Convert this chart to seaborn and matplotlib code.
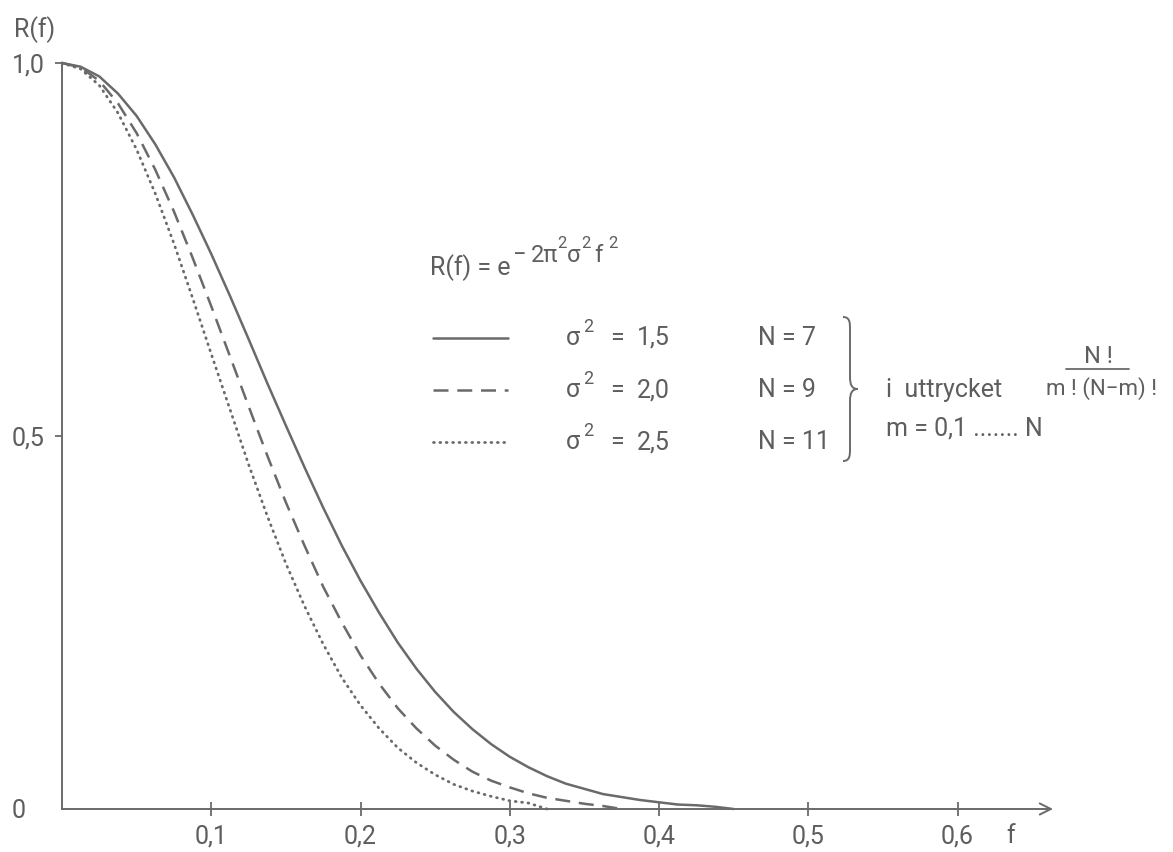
import numpy as np
import pandas as pd
import matplotlib
matplotlib.use("Agg")
import matplotlib.pyplot as plt
import seaborn as sns
from matplotlib.path import Path
from matplotlib.patches import PathPatch
from matplotlib.lines import Line2D

# ---- data ----
f_all = [0.0, 0.0125, 0.025, 0.0375, 0.05, 0.0625, 0.075, 0.0875, 0.1, 0.1125,
         0.125, 0.1375, 0.15, 0.1625, 0.175, 0.1875, 0.2, 0.2125, 0.225, 0.2375,
         0.25, 0.2625, 0.275, 0.2875, 0.3, 0.3125, 0.325, 0.3375, 0.35, 0.3625,
         0.375, 0.3875, 0.4, 0.4125, 0.425, 0.4375, 0.45]
R_15 = [1.0, 0.995, 0.982, 0.959, 0.929, 0.891, 0.847, 0.797, 0.744, 0.688,
        0.630, 0.571, 0.514, 0.458, 0.404, 0.353, 0.306, 0.263, 0.223, 0.188,
        0.157, 0.130, 0.107, 0.087, 0.070, 0.056, 0.044, 0.034, 0.027, 0.020,
        0.016, 0.012, 0.009, 0.006, 0.005, 0.003, 0.0]
R_20 = [1.0, 0.994, 0.976, 0.946, 0.906, 0.857, 0.801, 0.739, 0.674, 0.607,
        0.540, 0.474, 0.411, 0.353, 0.298, 0.250, 0.206, 0.168, 0.135, 0.108,
        0.085, 0.066, 0.050, 0.038, 0.029, 0.021, 0.015, 0.011, 0.007, 0.004,
        0.0]
R_25 = [1.0, 0.992, 0.970, 0.933, 0.884, 0.825, 0.758, 0.685, 0.610, 0.536,
        0.462, 0.393, 0.329, 0.272, 0.221, 0.176, 0.139, 0.108, 0.082, 0.062,
        0.046, 0.033, 0.024, 0.017, 0.011, 0.008, 0.0]

x_ticks = [0.1, 0.2, 0.3, 0.4, 0.5, 0.6]
x_tick_labels = ["0,1", "0,2", "0,3", "0,4", "0,5", "0,6"]
y_ticks = [0, 0.5, 1.0]
y_tick_labels = ["0", "0,5", "1,0"]
legend_sigma = ["1,5", "2,0", "2,5"]
legend_N = ["7", "9", "11"]

# ---- style ----
sns.set_style("white")
plt.rcParams["font.family"] = ["Roboto", "DejaVu Sans"]
TXT = "#5e5e5e"
LN = "#6a6a6a"
FS = 18

W, H = 1173, 852
fig = plt.figure(figsize=(W / 100, H / 100), dpi=100)
x0, y0, ytop = 62, 809, 63
xmax = 0.66
ppu = 1492.5
ax = fig.add_axes([x0 / W, (H - y0) / H, xmax * ppu / W, (y0 - ytop) / H])

def px(x, y):
    return x / W, 1 - y / H

lw = 1.8
SOLID = dict(linestyle="-", lw=lw)
DASH = dict(linestyle=(0, (6, 3.5)), lw=lw)
DOT = dict(linestyle=(0, (0.3, 2.0)), lw=2.0, dash_capstyle="round")

sns.lineplot(x=f_all[:len(R_15)], y=R_15, ax=ax, color=LN, clip_on=False, **SOLID)
sns.lineplot(x=f_all[:len(R_20)], y=R_20, ax=ax, color=LN, dashes=False, clip_on=False, **DASH)
sns.lineplot(x=f_all[:len(R_25)], y=R_25, ax=ax, color=LN, dashes=False, clip_on=False, **DOT)

ax.set_xlim(0, xmax)
ax.set_ylim(0, 1.0)
for s in ["top", "right", "bottom"]:
    ax.spines[s].set_visible(False)
ax.spines["left"].set_color(LN)
ax.spines["left"].set_linewidth(1.4)

# x axis with arrow
ax.annotate("", xy=(xmax + 0.004, 0), xytext=(0, 0),
            xycoords="data", textcoords="data",
            arrowprops=dict(arrowstyle="->", color=LN, lw=1.4, mutation_scale=20,
                            shrinkA=0, shrinkB=0), annotation_clip=False)

ax.set_xticks(x_ticks)
ax.set_xticklabels(x_tick_labels)
ax.set_yticks(y_ticks)
ax.set_yticklabels(y_tick_labels)
ax.tick_params(axis="x", bottom=True, direction="inout", length=10, width=1.3, color=LN,
               labelsize=FS, labelcolor=TXT, pad=6)
ax.tick_params(axis="y", left=True, direction="out", length=5, width=1.3, color=LN,
               labelsize=FS, labelcolor=TXT, pad=31)
for lab in ax.get_yticklabels():
    lab.set_horizontalalignment("left")
ax.yaxis.get_major_ticks()[0].tick1line.set_visible(False)
ax.set_xlabel("")
ax.set_ylabel("")
ax.grid(False)

# axis titles
fig.text(*px(14, 30), "R(f)", fontsize=FS, color=TXT, ha="left", va="center")
fig.text(*px(1006, 836), "f", fontsize=FS, color=TXT, ha="left", va="center")

# formula  R(f) = e^(-2 pi^2 sigma^2 f^2)
fig.text(*px(430, 268), "R(f) = e", fontsize=FS, color=TXT, ha="left", va="center")
exp_parts = [(513, 255, "−", 17), (531, 255, "2π", 17), (557, 243, "2", 12),
             (567, 255, "σ", 17), (581, 243, "2", 12), (594, 255, "f", 17), (608, 243, "2", 12)]
for ex, ey, et, es in exp_parts:
    fig.text(*px(ex, ey), et, fontsize=es, color=TXT, ha="left", va="center")

# legend rows
rows_y = [338, 390, 442]
for yy, st, sg, nn in zip(rows_y, [SOLID, DASH, DOT], legend_sigma, legend_N):
    xa, ya = px(433, yy)
    xb, _ = px(508, yy)
    fig.add_artist(Line2D([xa, xb], [ya, ya], color=LN, transform=fig.transFigure, **st))
    fig.text(*px(566, yy), "σ", fontsize=FS, color=TXT, ha="left", va="center")
    fig.text(*px(583, yy - 11), "2", fontsize=13, color=TXT, ha="left", va="center")
    fig.text(*px(610, yy), "=", fontsize=FS, color=TXT, ha="left", va="center")
    fig.text(*px(637, yy), sg, fontsize=FS, color=TXT, ha="left", va="center")
    fig.text(*px(758, yy), "N = " + nn, fontsize=FS, color=TXT, ha="left", va="center")

# brace
top, mid, bot = 317, 389, 461
verts = [(843, top), (850, top), (850, top + 6), (850, top + 12),
         (850, mid - 12),
         (850, mid - 4), (852, mid), (858, mid),
         (852, mid), (850, mid + 4), (850, mid + 12),
         (850, bot - 12),
         (850, bot - 6), (850, bot), (843, bot)]
codes = [Path.MOVETO, Path.CURVE4, Path.CURVE4, Path.CURVE4,
         Path.LINETO,
         Path.CURVE4, Path.CURVE4, Path.CURVE4,
         Path.CURVE4, Path.CURVE4, Path.CURVE4,
         Path.LINETO,
         Path.CURVE4, Path.CURVE4, Path.CURVE4]
verts_fig = [px(vx, vy) for vx, vy in verts]
fig.add_artist(PathPatch(Path(verts_fig, codes), fill=False, edgecolor=LN, lw=1.4,
                         transform=fig.transFigure))

# side note
fig.text(*px(886, 390), "i  uttrycket", fontsize=FS, color=TXT, ha="left", va="center")
fig.text(*px(1098, 356), "N !", fontsize=17, color=TXT, ha="center", va="center")
xa, ya = px(1066, 369)
xb, _ = px(1129, 369)
fig.add_artist(Line2D([xa, xb], [ya, ya], color=LN, lw=1.3, transform=fig.transFigure))
fig.text(*px(1046, 389), "m ! (N−m) !", fontsize=16, color=TXT, ha="left", va="center")
fig.text(*px(886, 428), "m = 0,1 ....... N", fontsize=FS, color=TXT, ha="left", va="center")

fig.savefig("out.png", dpi=100, facecolor="white")
